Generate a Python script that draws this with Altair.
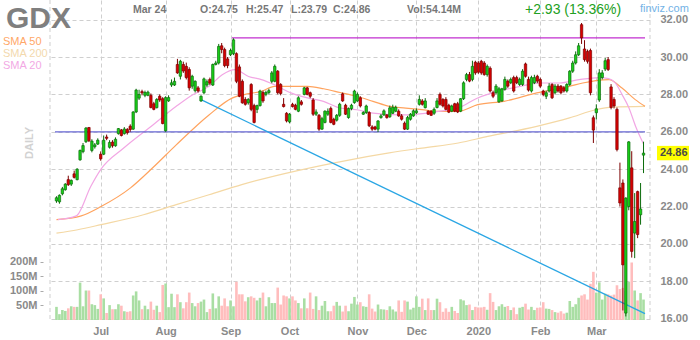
import altair as alt
import pandas as pd

# ---------------- data ----------------
opens = [22.30,22.25,22.68,22.90,23.44,23.20,23.75,23.44,24.50,24.94,
         25.47,26.23,25.00,25.20,25.34,24.80,24.80,25.72,25.17,25.45,
         25.25,25.90,26.10,25.90,26.12,26.30,26.14,27.06,27.80,28.15,
         27.95,27.95,27.95,27.50,27.29,27.90,27.77,26.05,27.65,28.50,
         28.50,29.60,28.97,29.60,29.50,29.33,28.44,28.20,28.35,27.65,
         28.09,28.50,28.80,28.50,29.60,29.68,30.60,30.40,29.90,30.12,
         30.18,30.18,29.47,28.70,27.73,27.55,28.53,27.40,27.20,27.40,
         28.10,28.00,28.10,28.70,28.70,29.24,28.53,27.47,26.99,26.53,
         27.47,27.42,27.10,27.60,28.00,28.35,28.09,27.70,26.94,26.88,
         26.14,26.50,26.94,27.25,26.67,26.62,26.88,28.03,27.42,26.76,
         27.24,27.56,27.65,27.82,26.94,27.03,27.03,26.26,26.26,26.14,
         26.76,26.90,26.90,26.80,26.99,27.10,27.10,26.85,26.46,26.14,
         26.67,26.85,27.02,27.47,27.65,27.29,27.10,27.10,26.99,27.30,
         28.00,27.73,27.73,27.42,27.10,27.50,27.50,27.10,27.77,28.80,
         29.06,28.80,29.72,29.68,29.77,29.68,29.06,29.40,28.09,28.09,
         27.60,27.65,28.27,28.71,28.62,28.90,28.90,28.53,28.53,29.63,
         28.80,28.18,28.62,28.97,28.80,28.18,27.90,28.18,28.53,28.09,
         28.44,28.44,28.35,28.18,28.53,29.24,29.68,30.12,31.73,30.43,
         30.30,30.35,26.75,27.02,27.70,28.90,29.36,29.86,28.40,27.73,
         27.20,23.00,23.26,16.30,22.00,24.07,20.58,22.80,21.56,24.75]

closes = [22.47,22.60,22.95,23.20,23.17,23.40,23.56,24.00,25.00,25.26,
          26.20,25.52,25.50,25.30,25.55,24.55,25.55,25.65,25.43,25.25,
          25.60,26.17,25.80,26.15,25.95,26.12,27.06,28.23,28.00,28.08,
          28.10,28.12,27.30,27.20,27.73,27.70,26.44,27.83,27.83,28.62,
          28.70,29.15,29.77,29.25,28.90,28.35,28.97,28.70,28.18,27.90,
          28.83,28.68,28.60,29.60,29.68,30.57,30.40,29.54,29.54,30.35,
          30.92,28.70,27.90,27.55,27.47,27.73,27.20,26.50,27.40,28.18,
          27.65,28.10,28.20,29.15,29.50,28.09,28.05,27.35,26.58,26.94,
          27.35,27.20,27.82,27.47,28.35,28.00,27.90,26.94,27.06,26.14,
          26.70,27.10,27.10,26.50,26.40,26.88,27.47,27.65,26.94,27.24,
          27.42,28.18,28.00,27.38,27.03,27.38,26.32,26.14,26.14,26.58,
          26.85,27.12,26.76,27.28,27.31,27.31,26.85,26.67,26.14,26.76,
          26.94,27.12,27.12,27.73,27.47,27.65,26.94,26.88,27.20,27.65,
          27.47,27.38,27.20,27.05,27.38,27.10,27.06,27.77,28.62,29.06,
          28.71,29.50,29.15,29.19,29.15,29.06,29.50,28.18,27.90,28.44,
          28.30,28.30,28.80,28.44,28.80,28.18,28.62,28.80,29.24,28.97,
          28.23,28.90,28.90,28.71,28.44,28.00,28.09,28.44,27.82,28.44,
          28.18,28.09,28.18,28.53,29.24,29.68,30.12,30.60,31.02,29.86,
          29.77,28.09,26.09,27.23,29.15,29.15,29.80,29.33,27.30,27.38,
          25.05,22.19,18.88,22.45,25.46,19.60,21.20,20.50,21.87,24.86]

highs = [22.55,22.65,23.05,23.25,23.65,23.45,23.92,24.05,25.05,25.40,
         26.25,26.25,25.60,25.40,25.65,24.95,25.80,25.85,25.55,25.55,
         25.70,26.20,26.15,26.25,26.20,26.40,27.10,28.30,28.25,28.25,
         28.20,28.20,28.05,27.60,27.80,28.00,27.85,27.90,27.95,28.80,
         28.90,29.90,29.85,29.75,29.70,29.45,29.05,28.75,28.45,27.95,
         28.90,28.80,28.90,29.65,29.80,30.70,30.75,30.50,30.00,30.45,
         31.00,30.25,29.60,28.80,27.85,27.80,28.60,27.50,27.45,28.25,
         28.20,28.20,28.30,29.25,29.60,29.30,28.60,27.80,27.05,27.00,
         27.55,27.50,27.90,27.70,28.40,28.40,28.15,27.80,27.20,26.95,
         26.80,27.15,27.25,27.35,26.75,26.95,27.55,28.10,27.50,27.30,
         27.50,28.25,28.10,27.90,27.10,27.45,27.10,26.35,26.32,26.62,
         26.95,27.20,26.95,27.40,27.45,27.40,27.20,26.95,26.55,26.85,
         27.00,27.20,27.25,27.95,27.75,27.80,27.15,27.15,27.30,27.80,
         28.10,27.80,27.85,27.50,27.45,27.55,27.60,27.80,28.70,29.15,
         29.20,29.80,29.80,29.78,29.85,29.78,29.60,29.50,28.20,28.55,
         28.40,28.35,28.95,28.80,28.90,29.00,29.00,28.90,29.35,29.70,
         28.95,29.00,29.05,29.05,28.90,28.25,28.20,28.60,28.60,28.55,
         28.55,28.50,28.45,28.60,29.30,29.80,30.30,30.75,31.82,30.90,
         30.40,30.45,26.87,27.47,29.35,29.30,29.95,30.00,28.55,27.85,
         27.30,24.35,23.45,22.50,25.50,24.96,22.72,22.85,23.26,25.47]

lows = [22.20,22.15,22.60,22.85,23.10,23.10,23.50,23.40,24.45,24.85,
        25.40,25.45,24.90,25.10,25.30,24.45,24.75,25.55,25.10,25.15,
        25.20,25.85,25.75,25.85,25.85,26.00,26.10,27.00,27.70,27.95,
        27.85,27.90,27.25,27.15,27.25,27.60,26.40,26.00,27.60,28.40,
        28.45,29.10,28.80,29.15,28.80,28.20,28.30,28.10,28.10,27.60,
        28.00,28.40,28.50,28.45,29.55,29.60,30.20,29.45,29.40,30.05,
        30.10,28.60,27.85,27.50,27.40,27.45,27.10,26.45,27.00,27.35,
        27.55,27.90,28.00,28.60,28.65,28.00,27.95,27.30,26.50,26.45,
        27.30,27.15,27.05,27.40,27.95,27.95,27.80,26.85,26.85,26.05,
        26.10,26.45,26.85,26.45,26.35,26.55,26.80,27.60,26.90,26.70,
        27.15,27.50,27.60,27.30,26.90,26.95,26.25,26.05,26.08,25.98,
        26.70,26.85,26.70,26.75,26.95,27.05,26.80,26.60,26.10,26.10,
        26.60,26.80,26.95,27.40,27.40,27.25,26.90,26.85,26.90,27.25,
        27.40,27.30,27.15,27.00,27.05,27.05,27.00,27.05,27.70,28.70,
        28.65,28.70,29.05,29.10,29.05,29.00,28.95,28.10,27.80,28.00,
        27.55,27.60,28.20,28.35,28.55,28.10,28.55,28.45,28.45,28.90,
        28.15,28.10,28.55,28.60,28.35,27.90,27.75,28.10,27.75,28.00,
        28.10,28.00,28.10,28.10,28.45,29.15,29.60,30.05,30.70,29.75,
        29.65,27.95,25.40,26.66,27.60,28.80,29.25,29.25,27.20,27.25,
        24.95,22.00,16.44,16.12,21.80,19.27,19.24,20.31,21.03,23.79]

volumes_m = [45,20,34,31,40,47,45,45,128,47,
             101,101,54,51,38,88,74,24,51,37,
             37,54,49,30,28,30,84,98,67,37,
             49,37,63,35,49,27,120,125,44,90,
             44,88,61,40,61,94,58,47,58,63,
             70,27,38,91,40,81,49,74,47,67,
             47,131,88,88,64,78,81,76,67,76,
             94,47,78,58,58,111,53,84,81,74,
             81,67,58,40,74,40,94,38,81,34,
             49,65,30,30,49,62,49,29,49,30,
             56,79,53,61,47,45,88,39,29,53,
             37,36,34,47,36,29,67,28,67,63,
             36,42,81,45,73,34,74,34,34,73,
             61,28,40,28,45,31,24,71,67,51,
             53,34,45,43,43,45,35,92,62,34,
             47,54,45,48,34,43,20,42,45,56,
             36,45,34,42,43,61,39,38,34,27,
             25,30,22,25,65,45,54,76,84,88,
             70,124,165,94,129,70,90,88,84,87,
             119,106,110,100,130,197,101,67,92,70]

# moving averages, sampled along the curves (trading-day index, value)
sma20_i = [0.5, 6.7, 11.7, 15.1, 22.8, 32.8, 40.6, 46.2, 51.7, 56.2, 60.5, 65.1, 69.5, 73.8,
           79.5, 85.1, 90.5, 96.2, 101.7, 107.3, 118.4, 129.5, 136.2, 142.8, 149.5, 157.2,
           163.8, 170.5, 177.2, 184.0, 187.2, 189.5, 191.7, 194.0, 196.3, 199.0]
sma20_v = [21.30, 21.50, 23.10, 24.00, 25.13, 26.38, 27.36, 27.98, 28.43, 29.05, 29.32, 28.96, 28.79, 28.52,
           28.08, 27.81, 27.63, 27.27, 27.18, 27.00, 26.90, 27.09, 27.27, 27.81, 28.16, 28.43,
           28.61, 28.61, 28.79, 28.90, 28.84, 28.60, 28.00, 27.30, 26.30, 25.35]
sma50_i = [0, 8.4, 15.1, 25.1, 32.8, 40.6, 51.7, 59.5, 65.1, 69.5, 73.9, 85.1, 90.6, 96.2, 101.7,
           107.3, 112.8, 118.4, 123.9, 129.5, 136.2, 142.8, 151.7, 162.8, 173.9, 178.4, 187.3,
           191.7, 196.2, 199.5]
sma50_v = [21.30, 21.50, 22.00, 23.00, 24.10, 25.30, 26.90, 27.80, 28.04, 28.16, 28.43, 28.43, 28.30, 28.10, 27.90,
           27.63, 27.36, 27.27, 27.18, 27.09, 27.09, 27.45, 27.63, 28.08, 28.43, 28.61, 28.79,
           28.34, 27.72, 27.36]
sma200_i = [0, 7.2, 15.1, 29.5, 40.6, 51.7, 62.8, 99.5, 112.8, 123.9, 136.2, 146.2, 162.8, 173.9,
            182.8, 188.4, 199.5]
sma200_v = [20.58, 20.76, 21.03, 21.56, 22.10, 22.63, 23.17, 24.50, 24.87, 25.13, 25.40, 25.75, 26.29, 26.74,
            27.18, 27.32, 27.36]

# drawn trend lines (start index, start price, end index, end price)
tl_name = ["resistance", "support", "trend"]
tl_x1 = [59.5, -0.5, 49.0]
tl_y1 = [31.02, 26.00, 27.72]
tl_x2 = [199.5, 199.5, 199.5]
tl_y2 = [31.02, 26.00, 16.27]

month_idx = [15, 37, 59, 79, 102, 122, 143, 164, 183]
month_lbl = ["Jul", "Aug", "Sep", "Oct", "Nov", "Dec", "2020", "Feb", "Mar"]
price_ticks = [16, 18, 20, 22, 24, 26, 28, 30, 32]
vol_ticks = [50, 100, 150, 200]

# ---------------- build ----------------
df = pd.DataFrame({"idx": list(range(len(opens))), "open": opens, "high": highs,
                   "low": lows, "close": closes, "vol": volumes_m})
last = df.iloc[[-1]]

FONT = "Liberation Sans"
GRID = "#cfcfcf"
LBL = "#8a8a8a"
UP_FILL, UP_LINE = "#19d019", "#0b6b0b"
DN_FILL, DN_LINE = "#d80000", "#7c0000"

XS = alt.Scale(domain=[-0.5, 199.5], nice=False, zero=False)
PS = alt.Scale(domain=[15.93, 33.05], nice=False, zero=False)
VS = alt.Scale(domain=[0, 1096], nice=False, zero=True)

lbl_expr = " : ".join(f"datum.value == {i} ? '{l}'" for i, l in zip(month_idx, month_lbl)) + " : ''"
x_axis = alt.Axis(values=month_idx, labelExpr=lbl_expr, grid=True, gridDash=[4, 3], gridColor=GRID,
                  domain=False, ticks=False, labelPadding=5, labelFont=FONT, labelFontSize=11,
                  labelFontWeight="bold", labelColor=LBL, orient="bottom")
p_axis = alt.Axis(values=price_ticks, format=".2f", grid=True, gridDash=[4, 3], gridColor=GRID,
                  domain=False, ticks=False, labelPadding=10, labelFont=FONT, labelFontSize=11,
                  labelFontWeight="bold", labelColor=LBL, orient="right", labelOverlap=False,
                  labelBound=False)
v_axis = alt.Axis(values=vol_ticks, labelExpr="datum.value + 'M'", grid=False, domain=False,
                  ticks=True, tickSize=3, tickColor="#aaaaaa", offset=7, labelPadding=3,
                  labelFont=FONT, labelFontSize=11, labelFontWeight="bold", labelColor=LBL,
                  orient="left")


def X(f):
    return alt.X(f, type="quantitative", scale=XS, axis=x_axis, title=None)


def PY(f):
    return alt.Y(f, type="quantitative", scale=PS, axis=p_axis, title=None)


up = "datum.close >= datum.open"

vol = alt.Chart(df).mark_bar(size=2.6).encode(
    x=X("idx"),
    y=alt.Y("vol:Q", scale=VS, axis=v_axis, title=None),
    color=alt.condition(up, alt.value("#a9dea3"), alt.value("#ffbdbd")),
)


def sma(ii, vv, col):
    d = pd.DataFrame({"i": ii, "v": vv})
    return alt.Chart(d).mark_line(strokeWidth=1.2, interpolate="monotone").encode(
        x=X("i"), y=PY("v"), color=alt.value(col))


tl = pd.DataFrame({"name": tl_name, "x1": tl_x1, "y1": tl_y1, "x2": tl_x2, "y2": tl_y2})
lines = alt.Chart(tl).mark_rule(strokeWidth=1.3).encode(
    x=X("x1"), x2="x2", y=PY("y1"), y2="y2",
    color=alt.Color("name:N", scale=alt.Scale(domain=tl_name, range=["#c22fcf", "#6767d4", "#2aa6e4"]),
                    legend=None))

wicks = alt.Chart(df).mark_rule(strokeWidth=1).encode(
    x=X("idx"), y=PY("low"), y2="high",
    color=alt.condition(up, alt.value(UP_LINE), alt.value(DN_LINE)))

bodies = alt.Chart(df).mark_bar(size=2.4, strokeWidth=0.7).encode(
    x=X("idx"), y=PY("open"), y2="close",
    fill=alt.condition(up, alt.value(UP_FILL), alt.value(DN_FILL)),
    stroke=alt.condition(up, alt.value(UP_LINE), alt.value(DN_LINE)))

box = alt.Chart(last).mark_point(shape="M-1,-0.45L1,-0.45L1,0.45L-1,0.45Z", size=1024, filled=True,
                                 opacity=1, color="#ffff00").encode(x=alt.value(623), y=PY("close"))
box_txt = alt.Chart(last).mark_text(align="left", baseline="middle", font=FONT, fontSize=11,
                                    fontWeight="bold", color="#4a4a4a").encode(
    x=alt.value(610), y=PY("close"), text=alt.Text("close:Q", format=".2f"))

price = alt.layer(sma(sma200_i, sma200_v, "#f4d8a4"), sma(sma50_i, sma50_v, "#ffa35e"),
                  sma(sma20_i, sma20_v, "#f2a7e4"), lines, wicks, bodies, box, box_txt)

one = pd.DataFrame({"k": [0]})


def txt(s, x, y, size=11, color="#777777", weight="bold", align="left", baseline="middle", angle=0):
    kw = dict(text=s, align=align, baseline=baseline, font=FONT, fontSize=size, color=color,
              fontWeight=weight)
    if angle:
        kw["angle"] = angle
    return alt.Chart(one).mark_text(**kw).encode(x=alt.value(x), y=alt.value(y))


edges = alt.Chart(one).mark_rule(strokeDash=[4, 3], color=GRID).encode(
    x=alt.value(0), y=alt.value(0), y2=alt.value(320))
edges_r = alt.Chart(one).mark_rule(strokeDash=[4, 3], color=GRID).encode(
    x=alt.value(600), y=alt.value(0), y2=alt.value(320))

texts = [
    txt("GDX", -44, 28, size=30, color="#7f7f7f", baseline="alphabetic"),
    txt("SMA 50", -47, 42, color="#ffa768", weight="normal"),
    txt("SMA 200", -47, 54, color="#f3d9ad", weight="normal"),
    txt("SMA 20", -47, 66, color="#f2a9e4", weight="normal"),
    txt("DAILY", -20, 143, size=11, color="#d2d2d2", angle=270, align="center"),
    txt("Mar 24", 83, 10, size=10.5),
    txt("O:24.75", 150, 10, size=10.5),
    txt("H:25.47", 196, 10, size=10.5),
    txt("L:23.79", 241, 10, size=10.5),
    txt("C:24.86", 283, 10, size=10.5),
    txt("Vol:54.14M", 357, 10, size=10.5),
    txt("+2.93 (13.36%)", 475, 10, size=14, color="#22a022", weight="normal"),
    txt("finviz.com", 590, 9, size=11, color="#72b2e6", weight="normal"),
]

chart = alt.layer(vol, edges, edges_r, price, *texts).resolve_scale(y="independent").properties(
    width=600, height=320, autosize="none",
    padding={"left": 50, "top": 0, "right": 50, "bottom": 20},
    background="white",
).configure_view(stroke=None)

chart.save("out.html", embed_options={"renderer": "svg", "actions": False})
